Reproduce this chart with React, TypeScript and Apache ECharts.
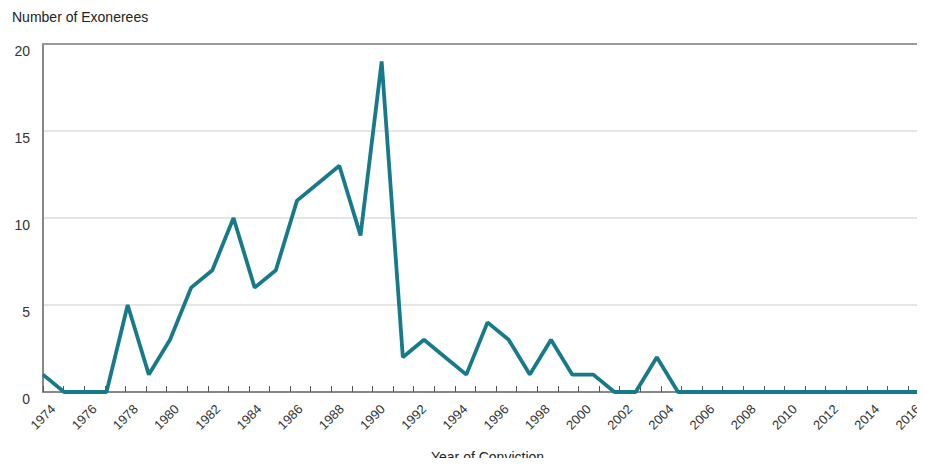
import React, { useEffect, useRef } from "react";
import * as echarts from "echarts";

const years: string[] = [];
for (let y = 1974; y <= 2016; y++) years.push(String(y));

const exonerees = [
  1, 0, 0, 0, 5, 1, 3, 6, 7, 10, 6, 7, 11, 12, 13, 9, 19, 2, 3, 2, 1, 4, 3, 1, 3, 1, 1, 0, 0, 2,
  0, 0, 0, 0, 0, 0, 0, 0, 0, 0, 0, 0, 0,
];

const yTicks = [0, 5, 10, 15, 20];

const FONT = "'Liberation Sans', Arial, sans-serif";

export default function App() {
  const ref = useRef<HTMLDivElement>(null);
  useEffect(() => {
    if (!ref.current) return;
    const chart = echarts.init(ref.current, null, { renderer: "svg" });
    const yMin = yTicks[0];
    const yMax = yTicks[yTicks.length - 1];
    chart.setOption({
      animation: false,
      textStyle: { fontFamily: FONT },
      title: {
        text: "Number of Exonerees",
        left: 4,
        top: 2,
        padding: 0,
        textStyle: { fontFamily: FONT, fontSize: 14, fontWeight: "normal", color: "#222" },
      },
      grid: [
        { left: 35, right: -7, top: 36, bottom: 74, outerBoundsMode: "none", containLabel: false },
        { left: 35, right: 17, top: 36, bottom: 74, outerBoundsMode: "none", containLabel: false },
      ],
      xAxis: [
        {
          gridIndex: 0,
          type: "category",
          data: years,
          boundaryGap: false,
          name: "Year of Conviction",
          nameLocation: "middle",
          nameGap: 58,
          nameTextStyle: { fontFamily: FONT, fontSize: 14, color: "#222", verticalAlign: "top" },
          axisLine: { lineStyle: { color: "#888", width: 2 } },
          axisTick: { show: false },
          axisLabel: { show: false },
          splitLine: { show: false },
        },
        {
          gridIndex: 0,
          type: "category",
          data: years,
          boundaryGap: false,
          position: "top",
          axisLine: { show: true, lineStyle: { color: "#999", width: 2 } },
          axisTick: { show: false },
          axisLabel: { show: false },
        },
        {
          gridIndex: 1,
          type: "category",
          data: years,
          boundaryGap: false,
          position: "bottom",
          axisLine: { show: false },
          axisTick: { show: true, inside: true, length: 6, interval: 0, lineStyle: { color: "#555" } },
          axisLabel: {
            interval: 1,
            rotate: 45,
            align: "center",
            verticalAlign: "middle",
            fontSize: 13,
            color: "#333",
            fontFamily: FONT,
            margin: 25,
          },
          splitLine: { show: false },
        },
      ],
      yAxis: [
        {
          gridIndex: 0,
          type: "value",
          min: yMin,
          max: yMax,
          interval: 5,
          axisLine: { show: true, lineStyle: { color: "#888", width: 2 } },
          axisTick: { show: false },
          axisLabel: {
            fontSize: 14,
            color: "#333",
            fontFamily: FONT,
            margin: 13,
            verticalAlign: "top",
          },
          splitLine: { show: true, lineStyle: { color: "#dddddd", width: 1.5 } },
        },
        {
          gridIndex: 1,
          type: "value",
          min: yMin,
          max: yMax,
          interval: 5,
          show: false,
          splitLine: { show: false },
        },
      ],
      series: [
        {
          type: "line",
          xAxisIndex: 0,
          yAxisIndex: 0,
          data: exonerees,
          symbol: "none",
          lineStyle: { color: "#177a8a", width: 3.8 },
          itemStyle: { color: "#177a8a" },
        },
      ],
    });
    return () => chart.dispose();
  }, []);
  return <div ref={ref} style={{ width: 917, height: 458, marginBottom: -8 }} />;
}
